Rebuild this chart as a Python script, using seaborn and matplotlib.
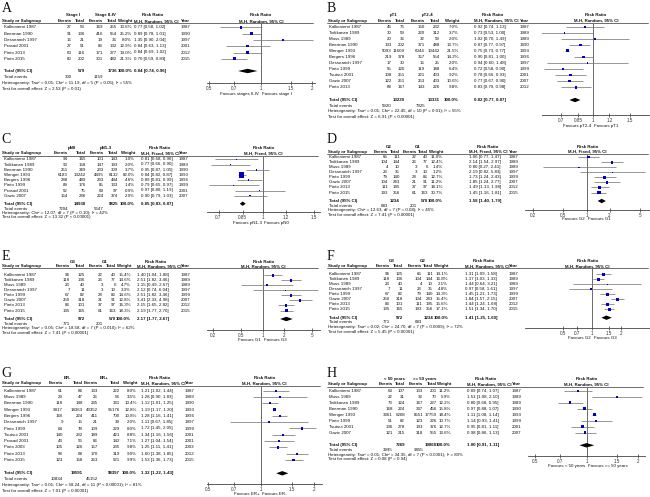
import matplotlib
matplotlib.use("Agg")
import matplotlib.pyplot as plt
from matplotlib.ticker import NullLocator
import seaborn as sns
import pandas as pd

# ---------------- DATA ----------------
# Panel A: Stage I vs Stage II-IV
A_study = ["Kallioniemi 1987", "Beerman 1990", "Dessearich 1997", "Prasad 2001", "Pinto 2013", "Pinto 2015"]
A_year = ["1987", "1990", "1997", "2001", "2012", "2015"]
A_ev1 = [27, 91, 15, 27, 60, 80]
A_tot1 = [53, 136, 21, 51, 116, 202]
A_ev2 = [169, 416, 19, 83, 171, 301]
A_tot2 = [255, 554, 36, 132, 277, 482]
A_weight = [13.6, 25.2, 8.0, 12.9, 19.0, 21.3]
A_rr = [0.77, 0.89, 1.35, 0.84, 0.84, 0.70]
A_lo = [0.58, 0.78, 0.90, 0.63, 0.69, 0.59]
A_hi = [1.02, 1.01, 2.04, 1.13, 1.02, 0.83]
A_totals = [579, 1736]
A_events = [300, 1159]
A_overall = [0.84, 0.74, 0.96]

# Panel B: pT1 vs pT2-4
B_study = ["Kallioniemi 1987", "Toikkanen 1989", "Muss 1989", "Beerman 1990", "Wenger 1993", "Bergers 1996",
           "Dessearich 1997", "Pinto 1999", "Tsutsui 2001", "Gazic 2007", "Pinto 2013"]
B_year = ["1987", "1989", "1989", "1990", "1993", "1996", "1997", "1999", "2001", "2007", "2012"]
B_ev1 = [45, 30, 20, 133, 5093, 219, 17, 55, 108, 122, 88]
B_tot1 = [76, 59, 36, 202, 11609, 378, 30, 120, 251, 251, 167]
B_ev2 = [150, 220, 32, 371, 6044, 357, 15, 119, 221, 253, 143]
B_tot2 = [232, 312, 59, 488, 10442, 554, 25, 188, 403, 403, 226]
B_weight = [7.0, 3.7, 2.0, 13.7, 21.5, 14.2, 2.0, 6.4, 9.2, 10.6, 9.8]
B_rr = [0.92, 0.73, 1.02, 0.87, 0.75, 0.90, 0.94, 0.72, 0.78, 0.77, 0.83]
B_lo = [0.74, 0.53, 0.70, 0.77, 0.73, 0.81, 0.60, 0.58, 0.66, 0.67, 0.70]
B_hi = [1.13, 1.00, 1.49, 0.97, 0.77, 1.00, 1.48, 0.90, 0.93, 0.90, 0.98]
B_totals = [13239, 13331]
B_events = [5920, 7925]
B_overall = [0.82, 0.77, 0.87]

# Panel C: pN0 vs pN1-3
C_study = ["Kallioniemi 1987", "Toikkanen 1989", "Beerman 1990", "Wenger 1993", "Bergers 1996",
           "Pinto 1999", "Prasad 2001", "Gazic 2007"]
C_year = ["1987", "1989", "1990", "1993", "1996", "1999", "2001", "2007"]
C_ev1 = [94, 93, 251, 6183, 288, 89, 52, 154]
C_tot1 = [165, 158, 349, 13242, 489, 176, 75, 286]
C_ev2 = [101, 147, 233, 4495, 293, 85, 69, 224]
C_tot2 = [143, 193, 309, 8132, 444, 133, 97, 374]
C_weight = [1.0, 2.0, 3.7, 82.0, 4.6, 1.4, 0.9, 2.9]
C_rr = [0.81, 0.77, 0.95, 0.84, 0.89, 0.79, 0.97, 0.90]
C_lo = [0.68, 0.66, 0.87, 0.82, 0.81, 0.65, 0.80, 0.79]
C_hi = [0.96, 0.90, 1.05, 0.87, 0.99, 0.97, 1.19, 1.03]
C_totals = [14938, 9825]
C_events = [7204, 5647]
C_overall = [0.85, 0.83, 0.87]

# Panel D: G2 vs G1
D_study = ["Kallioniemi 1987", "Toikkanen 1989", "Muss 1989", "Dessearich 1997", "Pinto 1999",
           "Gazic 2007", "Pinto 2013", "Pinto 2015"]
D_year = ["1987", "1989", "1989", "1997", "1999", "2007", "2012", "2015"]
D_ev1 = [65, 104, 4, 23, 79, 104, 111, 193]
D_tot1 = [111, 144, 10, 35, 140, 243, 195, 356]
D_ev2 = [22, 26, 3, 3, 28, 21, 37, 61]
D_tot2 = [40, 77, 6, 10, 86, 91, 97, 163]
D_weight = [11.0, 12.4, 1.4, 1.2, 12.7, 11.2, 18.1, 30.7]
D_rr = [1.06, 2.14, 0.80, 2.19, 1.73, 1.85, 1.49, 1.45]
D_lo = [0.77, 1.54, 0.27, 0.82, 1.24, 1.24, 1.13, 1.16]
D_hi = [1.47, 2.97, 2.41, 5.83, 2.43, 2.77, 1.98, 1.81]
D_totals = [1234, 570]
D_events = [683, 201]
D_overall = [1.58, 1.40, 1.79]

# Panel E: G3 vs G1
E_study = D_study
E_year = D_year
E_ev1 = [96, 118, 23, 7, 67, 250, 83, 135]
E_tot1 = [125, 136, 40, 11, 82, 318, 101, 165]
E_ev2 = [22, 26, 3, 3, 28, 21, 37, 61]
E_tot2 = [40, 77, 6, 10, 86, 91, 97, 163]
E_weight = [15.4, 14.6, 4.7, 3.3, 14.6, 12.8, 16.3, 18.3]
E_rr = [1.40, 2.51, 1.15, 2.12, 2.51, 3.41, 2.15, 2.19]
E_lo = [1.04, 1.82, 0.49, 0.74, 1.82, 2.33, 1.65, 1.77]
E_hi = [1.88, 3.46, 2.67, 6.04, 3.46, 4.98, 2.82, 2.70]
E_totals = [972, 570]
E_events = [771, 201]
E_overall = [2.17, 1.77, 2.67]

# Panel F: G3 vs G2
F_study = D_study
F_year = D_year
F_ev1 = [96, 118, 23, 7, 67, 250, 83, 135]
F_tot1 = [125, 136, 40, 11, 82, 318, 101, 165]
F_ev2 = [65, 104, 4, 23, 79, 104, 111, 193]
F_tot2 = [111, 144, 10, 35, 140, 243, 195, 356]
F_weight = [14.1, 16.8, 2.1, 4.8, 14.3, 15.4, 15.6, 17.1]
F_rr = [1.31, 1.17, 1.44, 0.97, 1.45, 1.84, 1.44, 1.51]
F_lo = [1.09, 1.03, 0.64, 0.58, 1.21, 1.57, 1.24, 1.34]
F_hi = [1.58, 1.33, 3.21, 1.61, 1.73, 2.15, 1.68, 1.70]
F_totals = [972, 1234]
F_events = [771, 683]
F_overall = [1.41, 1.25, 1.60]

# Panel G: ER- vs ER+
G_study = ["Kallioniemi 1987", "Muss 1989", "Beerman 1990", "Wenger 1993", "Bergers 1996", "Dessearich 1997",
           "Pinto 1999", "Tsutsui 2001", "Prasad 2001", "Pinto 2003", "Pinto 2013", "Pinto 2015"]
G_year = ["1987", "1989", "1990", "1993", "1996", "1997", "1999", "2001", "2001", "2003", "2012", "2015"]
G_ev1 = [61, 29, 118, 9917, 166, 9, 64, 140, 43, 105, 58, 123]
G_tot1 = [84, 47, 148, 18363, 224, 15, 78, 232, 56, 126, 68, 158]
G_ev2 = [133, 26, 235, 43352, 411, 21, 109, 189, 86, 157, 170, 263]
G_tot2 = [222, 54, 331, 95176, 700, 39, 229, 421, 142, 235, 319, 521]
G_weight = [8.0, 3.5, 10.4, 12.8, 10.8, 2.0, 8.0, 8.8, 7.1, 9.8, 9.0, 9.9]
G_rr = [1.21, 1.28, 1.12, 1.19, 1.28, 1.11, 1.72, 1.34, 1.27, 1.25, 1.60, 1.53]
G_lo = [1.02, 0.90, 1.01, 1.17, 1.16, 0.67, 1.45, 1.16, 1.04, 1.11, 1.38, 1.36]
G_hi = [1.44, 1.83, 1.25, 1.20, 1.41, 1.85, 2.05, 1.56, 1.54, 1.41, 1.85, 1.73]
G_totals = [19591, 98397]
G_events = [10834, 45152]
G_overall = [1.32, 1.22, 1.43]

# Panel H: <50 years vs >=50 years
H_study = ["Kallioniemi 1987", "Muss 1989", "Toikkanen 1989", "Beerman 1990", "Wenger 1993",
           "Pinto 1999", "Tsutsui 2001", "Gazic 2007"]
H_year = ["1987", "1989", "1989", "1990", "1993", "1999", "2001", "2007"]
H_ev1 = [63, 22, 73, 168, 3361, 51, 136, 121]
H_tot1 = [107, 31, 124, 224, 6208, 82, 278, 215]
H_ev2 = [133, 33, 167, 337, 8551, 123, 193, 318]
H_tot2 = [201, 70, 227, 456, 17759, 226, 376, 555]
H_weight = [11.2, 5.9, 12.2, 15.8, 18.4, 10.7, 12.7, 13.6]
H_rr = [0.89, 1.51, 0.80, 0.97, 1.11, 1.14, 0.95, 0.98]
H_lo = [0.74, 1.08, 0.68, 0.88, 1.08, 0.93, 0.81, 0.86]
H_hi = [1.07, 2.10, 0.95, 1.07, 1.14, 1.41, 1.11, 1.13]
H_totals = [7269, 19868]
H_events = [3995, 9855]
H_overall = [1.00, 0.91, 1.11]

# text labels
groups = {"A": ("Stage I", "Stage II-IV"), "B": ("pT1", "pT2-4"), "C": ("pN0", "pN1-3"),
          "D": ("G2", "G1"), "E": ("G3", "G1"), "F": ("G3", "G2"), "G": ("ER-", "ER+"),
          "H": ("< 50 years", ">= 50 years")}
models = {"A": "Random", "B": "Random", "C": "Fixed", "D": "Fixed", "E": "Random",
          "F": "Random", "G": "Random", "H": "Random"}
heterogeneity = {
    "A": "Heterogeneity: Tau\u00b2 = 0.01; Chi\u00b2 = 11.19, df = 5 (P = 0.05); I\u00b2 = 55%",
    "B": "Heterogeneity: Tau\u00b2 = 0.01; Chi\u00b2 = 22.45, df = 10 (P = 0.01); I\u00b2 = 55%",
    "C": "Heterogeneity: Chi\u00b2 = 12.07, df = 7 (P = 0.10); I\u00b2 = 42%",
    "D": "Heterogeneity: Chi\u00b2 = 12.63, df = 7 (P = 0.08); I\u00b2 = 45%",
    "E": "Heterogeneity: Tau\u00b2 = 0.05; Chi\u00b2 = 18.58, df = 7 (P = 0.010); I\u00b2 = 62%",
    "F": "Heterogeneity: Tau\u00b2 = 0.02; Chi\u00b2 = 24.70, df = 7 (P = 0.0009); I\u00b2 = 72%",
    "G": "Heterogeneity: Tau\u00b2 = 0.01; Chi\u00b2 = 58.24, df = 11 (P < 0.00001); I\u00b2 = 81%",
    "H": "Heterogeneity: Tau\u00b2 = 0.01; Chi\u00b2 = 34.35, df = 7 (P < 0.0001); I\u00b2 = 80%",
}
overall_test = {
    "A": "Test for overall effect: Z = 2.53 (P = 0.01)",
    "B": "Test for overall effect: Z = 6.91 (P < 0.00001)",
    "C": "Test for overall effect: Z = 13.32 (P < 0.00001)",
    "D": "Test for overall effect: Z = 7.41 (P < 0.00001)",
    "E": "Test for overall effect: Z = 7.41 (P < 0.00001)",
    "F": "Test for overall effect: Z = 5.45 (P < 0.00001)",
    "G": "Test for overall effect: Z = 7.01 (P < 0.00001)",
    "H": "Test for overall effect: Z = 0.08 (P = 0.94)",
}
favours = {"A": ("Favours stages II-IV", "Favours stage I"), "B": ("Favours pT2-4", "Favours pT1"),
           "C": ("Favours pN1-3", "Favours pN0"), "D": ("Favours G2", "Favours G1"),
           "E": ("Favours G1", "Favours G3"), "F": ("Favours G2", "Favours G3"),
           "G": ("Favours ER+", "Favours ER-"), "H": ("Favours < 50 years", "Favours >= 50 years")}
ticks_a = ["0.5", "0.7", "1", "1.5", "2"]
ticks_b = ["0.7", "0.85", "1", "1.2", "1.5"]
ticks_d = ["0.2", "0.5", "1", "2", "5"]
tick_labels = {"A": ticks_a, "B": ticks_b, "C": ticks_b, "D": ticks_d, "E": ticks_d,
               "F": ticks_a, "G": ticks_a, "H": ticks_a}

data = {
    "A": (A_study, A_year, A_ev1, A_tot1, A_ev2, A_tot2, A_weight, A_rr, A_lo, A_hi, A_totals, A_events, A_overall),
    "B": (B_study, B_year, B_ev1, B_tot1, B_ev2, B_tot2, B_weight, B_rr, B_lo, B_hi, B_totals, B_events, B_overall),
    "C": (C_study, C_year, C_ev1, C_tot1, C_ev2, C_tot2, C_weight, C_rr, C_lo, C_hi, C_totals, C_events, C_overall),
    "D": (D_study, D_year, D_ev1, D_tot1, D_ev2, D_tot2, D_weight, D_rr, D_lo, D_hi, D_totals, D_events, D_overall),
    "E": (E_study, E_year, E_ev1, E_tot1, E_ev2, E_tot2, E_weight, E_rr, E_lo, E_hi, E_totals, E_events, E_overall),
    "F": (F_study, F_year, F_ev1, F_tot1, F_ev2, F_tot2, F_weight, F_rr, F_lo, F_hi, F_totals, F_events, F_overall),
    "G": (G_study, G_year, G_ev1, G_tot1, G_ev2, G_tot2, G_weight, G_rr, G_lo, G_hi, G_totals, G_events, G_overall),
    "H": (H_study, H_year, H_ev1, H_tot1, H_ev2, H_tot2, H_weight, H_rr, H_lo, H_hi, H_totals, H_events, H_overall),
}

# ---------------- LAYOUT (pixels) ----------------
layout = {
    "A": dict(ox=0, let=12, gh=15, ch=21, ul=23.3, r0=27.3, dr=6.3, tot=71, tev=77, het=83.3, test=89.3,
              axis=83.3, fav=94.5, cols=(72, 85, 103, 117, 132, 134, 181), plot=(207, 315), p1=260.5, s=171),
    "B": dict(ox=325, let=12, gh=15, ch=20.7, ul=23.3, r0=26.7, dr=6.07, tot=100, tev=105.7, het=111, test=116.7,
              axis=115, fav=126, cols=(67, 80, 100, 115, 134, 149, 195), plot=(217, 325), p1=268, s=208),
    "C": dict(ox=0, let=143, gh=148.3, ch=153.3, ul=155.7, r0=159.3, dr=5.2, tot=203.7, tev=208.7, het=212.7,
              test=217.3, axis=212.3, fav=222.7, cols=(68, 86, 104, 118, 135, 141, 179), plot=(207, 320),
              p1=263, s=287),
    "D": dict(ox=325, let=143, gh=146.7, ch=151.7, ul=154, r0=157.3, dr=5.03, tot=201, tev=206, het=210.3,
              test=215, axis=210, fav=219, cols=(63, 75, 92, 103, 118, 144, 184), plot=(200, 325),
              p1=261.5, s=76.5),
    "E": dict(ox=0, let=260, gh=261.7, ch=266, ul=268.3, r0=275.3, dr=5.03, tot=319, tev=323.7, het=328.3,
              test=333, axis=330, fav=340, cols=(70, 85, 103, 116, 131, 137, 181), plot=(207, 320),
              p1=262.5, s=70.8),
    "F": dict(ox=325, let=260, gh=261, ch=266, ul=268.3, r0=274.3, dr=5.0, tot=317.7, tev=322.3, het=326.7,
              test=331.7, axis=328.3, fav=337.7, cols=(65, 78, 97, 108, 123, 140, 184), plot=(200, 325),
              p1=267, s=97),
    "G": dict(ox=0, let=377, gh=378.3, ch=383.3, ul=385.7, r0=390.7, dr=6.3, tot=473.3, tev=479.3, het=485,
              test=490.7, axis=484.3, fav=494.3, cols=(63, 83, 98, 120, 137, 141, 185), plot=(207, 322),
              p1=261, s=176),
    "H": dict(ox=325, let=377, gh=379.3, ch=384, ul=386.7, r0=390.7, dr=6.0, tot=445.3, tev=450.3, het=455,
              test=459.3, axis=455.7, fav=465.7, cols=(68, 80, 98, 112, 126, 142, 187), plot=(203, 320),
              p1=261.5, s=171),
}

# ---------------- DRAW ----------------
sns.set_theme(style="white")
plt.rcParams["font.family"] = ["Liberation Sans", "DejaVu Sans"]

W, H = 650, 497
FS = 3.2
BLUE = "#0000c8"
fig = plt.figure(figsize=(6.5, 4.97), dpi=100)
fig.patch.set_facecolor("white")
over = fig.add_axes([0, 0, 1, 1])
over.set_xlim(0, W)
over.set_ylim(H, 0)
over.axis("off")


def txt(x, y, s, ha="left", bold=False, size=FS, **kw):
    over.text(x, y, s, ha=ha, va="center", fontsize=size,
              fontweight="bold" if bold else "normal", color="#111111", **kw)


for key in "ABCDEFGH":
    (study, year, ev1, tot1, ev2, tot2, weight, rr, lo, hi, totals, events, overall) = data[key]
    L = layout[key]
    ox = L["ox"]
    c_ev1, c_tot1, c_ev2, c_tot2, c_w, c_rr, c_yr = [ox + c for c in L["cols"]]
    pl, pr = ox + L["plot"][0], ox + L["plot"][1]
    p1 = ox + L["p1"]
    plot_c = (pl + pr) / 2

    over.text(ox + 1.5, L["let"], key, ha="left", va="baseline", fontsize=10,
              family=["Liberation Serif", "DejaVu Serif"], color="#111111")

    g1, g2 = groups[key]
    txt((c_ev1 - 10 + c_tot1) / 2, L["gh"], g1, ha="center", bold=True)
    txt((c_ev2 - 10 + c_tot2) / 2, L["gh"], g2, ha="center", bold=True)
    txt(c_rr + 19, L["gh"], "Risk Ratio", ha="center", bold=True)
    txt(plot_c, L["gh"], "Risk Ratio", ha="center", bold=True)
    txt(ox + 2.5, L["ch"], "Study or Subgroup", bold=True)
    txt(c_ev1, L["ch"], "Events", ha="right", bold=True)
    txt(c_tot1, L["ch"], "Total", ha="right", bold=True)
    txt(c_ev2, L["ch"], "Events", ha="right", bold=True)
    txt(c_tot2, L["ch"], "Total", ha="right", bold=True)
    txt(c_w, L["ch"], "Weight", ha="right", bold=True)
    mtxt = "M-H, %s, 95%% CI" % models[key]
    txt(c_rr, L["ch"], mtxt, bold=True)
    txt(c_yr, L["ch"], "Year", bold=True)
    txt(plot_c, L["ch"], mtxt, ha="center", bold=True)
    over.plot([ox + 2, pr - 2], [L["ul"], L["ul"]], color="#333333", lw=0.5)

    ys = [L["r0"] + i * L["dr"] for i in range(len(study))]
    for i, y in enumerate(ys):
        txt(ox + 4, y, study[i])
        txt(c_ev1, y, str(ev1[i]), ha="right")
        txt(c_tot1, y, str(tot1[i]), ha="right")
        txt(c_ev2, y, str(ev2[i]), ha="right")
        txt(c_tot2, y, str(tot2[i]), ha="right")
        txt(c_w, y, "%.1f%%" % weight[i], ha="right")
        txt(c_rr, y, "%.2f [%.2f, %.2f]" % (rr[i], lo[i], hi[i]))
        txt(c_yr, y, year[i])

    txt(ox + 4, L["tot"], "Total (95% CI)", bold=True)
    txt(c_tot1, L["tot"], str(totals[0]), ha="right", bold=True)
    txt(c_tot2, L["tot"], str(totals[1]), ha="right", bold=True)
    txt(c_w, L["tot"], "100.0%", ha="right", bold=True)
    txt(c_rr, L["tot"], "%.2f [%.2f, %.2f]" % tuple(overall), bold=True)
    txt(ox + 4, L["tev"], "Total events")
    txt(c_ev1, L["tev"], str(events[0]), ha="right")
    txt(c_ev2, L["tev"], str(events[1]), ha="right")
    txt(ox + 2.5, L["het"], heterogeneity[key])
    txt(ox + 2.5, L["test"], overall_test[key])

    top, axis_y = L["ul"], L["axis"]
    ax = fig.add_axes([pl / W, 1 - axis_y / H, (pr - pl) / W, (axis_y - top) / H])
    ax.set_facecolor("none")
    ax.set_xscale("log")
    df = pd.DataFrame({"rr": rr, "y": ys, "w": weight})
    ax.hlines(df["y"], lo, hi, color="#7a7a7a", lw=0.55, zorder=2)
    sns.scatterplot(data=df, x="rr", y="y", size="w", sizes=(0.8, 0.8 + 18.0), size_norm=(0, 100),
                    marker="s", color=BLUE, edgecolor="none", linewidth=0, legend=False, ax=ax, zorder=3)
    rr0, lo0, hi0 = overall
    ty = L["tot"]
    ax.fill([lo0, rr0, hi0, rr0], [ty, ty - 2.2, ty, ty + 2.2], color="black", lw=0, zorder=3)
    ax.axvline(1, color="#6a6a6a", lw=0.7, zorder=1)
    ax.set_xlim(10 ** ((pl - p1) / L["s"]), 10 ** ((pr - p1) / L["s"]))
    ax.set_ylim(axis_y, top)
    tl = tick_labels[key]
    ax.set_xticks([float(t) for t in tl])
    ax.set_xticklabels(tl)
    ax.xaxis.set_minor_locator(NullLocator())
    ax.set_yticks([])
    ax.set_xlabel("")
    ax.set_ylabel("")
    ax.tick_params(axis="x", which="major", direction="inout", length=2.5, width=0.5, labelsize=3.3,
                   pad=0.8, colors="#333333", bottom=True)
    sns.despine(ax=ax, left=True, top=True, right=True)
    ax.spines["bottom"].set_color("#444444")
    ax.spines["bottom"].set_linewidth(0.6)

    fl, fr = favours[key]
    txt(p1 - 1.5, L["fav"], fl, ha="right")
    txt(p1 + 1.5, L["fav"], fr, ha="left")

fig.savefig("out.png", dpi=100, facecolor="white")
